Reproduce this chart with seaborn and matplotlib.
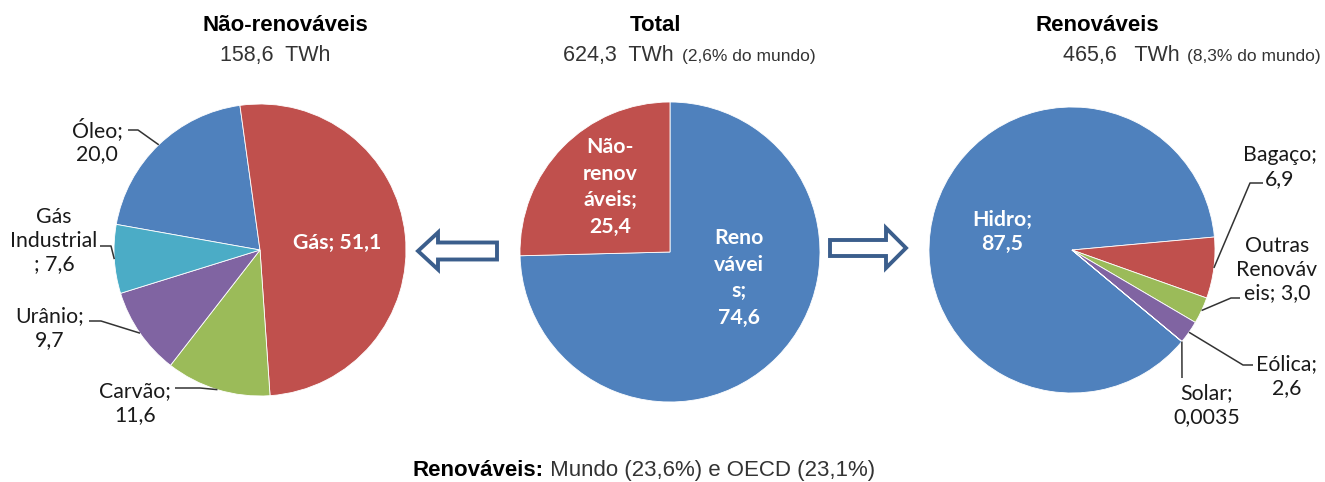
import numpy as np
import matplotlib
matplotlib.use("Agg")
import matplotlib.pyplot as plt
from matplotlib.patches import FancyArrow
import seaborn as sns

# ---------------- data ----------------
nren_names = ["Óleo", "Gás", "Carvão", "Urânio", "Gás Industrial"]
nren_values = [20.0, 51.1, 11.6, 9.7, 7.6]
total_names = ["Renováveis", "Não-renováveis"]
total_values = [74.6, 25.4]
ren_names = ["Hidro", "Bagaço", "Outras Renováveis", "Eólica", "Solar"]
ren_values = [87.5, 6.9, 3.0, 2.6, 0.0035]

nren_twh = "158,6"
total_twh = "624,3"
ren_twh = "465,6"
total_world = "2,6%"
ren_world = "8,3%"
world_ren_share = "23,6%"
oecd_ren_share = "23,1%"

# label texts as displayed (Excel-style wrapping)
nren_disp = ["Óleo;\n", "Gás; ", "Carvão;\n", "Urânio;\n", "Gás\nIndustrial\n; "]
total_disp = ["Reno\nvávei\ns;\n", "Não-\nrenov\náveis;\n"]
ren_disp = ["Hidro;\n", "Bagaço;\n", "Outras\nRenováv\neis; ", "Eólica;\n", "Solar;\n"]


def fmt(v):
    s = f"{v:.4f}" if v < 0.1 else f"{v:.1f}"
    return s.replace(".", ",")


# ---------------- style ----------------
sns.set_theme(style="white")
plt.rcParams["font.family"] = ["Lato", "DejaVu Sans"]
pal = sns.color_palette(["#4F81BD", "#C0504D", "#9BBB59", "#8064A2", "#4BACC6"])
blue, red, green, purple, aqua = pal

W, H = 1325, 482
fig = plt.figure(figsize=(W / 100, H / 100), dpi=100)
ax = fig.add_axes([0, 0, 1, 1])


def Y(y):
    return H - y


wp = dict(edgecolor="white", linewidth=0.6)
LBL = dict(fontsize=15.3, color="#1a1a1a", ha="center", va="center",
           linespacing=1.22, family=["Lato", "DejaVu Sans"])
WLBL = dict(fontsize=15.3, color="white", ha="center", va="center",
            fontweight="bold", linespacing=1.25, family=["Lato", "DejaVu Sans"])

# left pie: Não-renováveis
w_left, _ = ax.pie(nren_values, colors=[blue, red, green, purple, aqua],
                   startangle=169.9, counterclock=False,
                   center=(260, Y(250)), radius=146, wedgeprops=wp)
# middle pie: Total
w_mid, _ = ax.pie(total_values, colors=[blue, red], startangle=90, counterclock=False,
                  center=(670, Y(252)), radius=150, wedgeprops=wp)
# right pie: Renováveis
w_right, _ = ax.pie(ren_values, colors=[blue, red, green, purple, aqua],
                    startangle=320.2, counterclock=False,
                    center=(1072, Y(250)), radius=143, wedgeprops=wp)

ax.set_xlim(0, W)
ax.set_ylim(0, H)
ax.set_aspect("equal")
ax.axis("off")


def edge(w):
    th = np.deg2rad((w.theta1 + w.theta2) / 2)
    cx, cy = w.center
    return cx + w.r * np.cos(th), cy + w.r * np.sin(th)


def leader(w, start, elbow):
    ex, ey = edge(w)
    ax.plot([start[0], elbow[0], ex], [Y(start[1]), Y(elbow[1]), ey],
            color="#333333", lw=1.1, solid_capstyle="butt", zorder=3)


# left labels
left_pos = {0: (97, 141), 2: (135, 403), 3: (50, 328), 4: (54, 241)}
left_lead = {0: ((128, 130), (138, 130)), 2: ((175, 388), (200, 388)),
             3: ((89, 321), (101, 321)), 4: ((100, 246), (111, 246))}
for i, (d, v) in enumerate(zip(nren_disp, nren_values)):
    if i == 1:
        ax.text(337, Y(243), d + fmt(v), **WLBL)
        continue
    x, y = left_pos[i]
    ax.text(x, Y(y), d + fmt(v), **LBL)
    leader(w_left[i], *left_lead[i])

# middle labels
mid_pos = {0: (739, 278), 1: (610, 187)}
for i, (d, v) in enumerate(zip(total_disp, total_values)):
    x, y = mid_pos[i]
    ax.text(x, Y(y), d + fmt(v), **dict(WLBL, linespacing=1.4))

# right labels
right_pos = {1: (1280, 167), 2: (1277, 270), 3: (1287, 376), 4: (1207, 405)}
right_lead = {1: ((1263, 183), (1250, 183)), 2: ((1240, 298), (1231, 298)),
              3: ((1253, 365), (1243, 365)), 4: ((1182, 378), (1182, 378))}
for i, (d, v) in enumerate(zip(ren_disp, ren_values)):
    if i == 0:
        ax.text(1002, Y(232), d + fmt(v), **WLBL)
        continue
    x, y = right_pos[i]
    ax.text(x, Y(y), d + fmt(v), **LBL)
    leader(w_right[i], *right_lead[i])

# arrows
acol = "#3B5E8C"
ax.add_patch(FancyArrow(497, Y(251), -79, 0, width=17, head_width=37, head_length=20,
                        length_includes_head=True, facecolor="white", edgecolor=acol,
                        linewidth=2.8, zorder=4))
ax.add_patch(FancyArrow(830, Y(248), 76, 0, width=16, head_width=40, head_length=20,
                        length_includes_head=True, facecolor="white", edgecolor=acol,
                        linewidth=2.8, zorder=4))

# titles
TF = ["Liberation Sans", "DejaVu Sans"]
tcol = "#333333"
ax.text(285, Y(31), "Não-renováveis", fontsize=16, fontweight="bold", ha="center",
        va="baseline", family=TF, color="black")
ax.text(655, Y(31), "Total", fontsize=16, fontweight="bold", ha="center",
        va="baseline", family=TF, color="black")
ax.text(1097, Y(31), "Renováveis", fontsize=16, fontweight="bold", ha="center",
        va="baseline", family=TF, color="black")

ax.text(220, Y(61), f"{nren_twh}  TWh", fontsize=15.5, ha="left", va="baseline",
        family=TF, color=tcol)
ax.text(563, Y(61), f"{total_twh}  TWh", fontsize=15.5, ha="left", va="baseline",
        family=TF, color=tcol)
ax.text(682, Y(61), f"({total_world} do mundo)", fontsize=12.5, ha="left",
        va="baseline", family=TF, color=tcol)
ax.text(1063, Y(61), f"{ren_twh}   TWh", fontsize=15.5, ha="left", va="baseline",
        family=TF, color=tcol)
ax.text(1187, Y(61), f"({ren_world} do mundo)", fontsize=12.5, ha="left",
        va="baseline", family=TF, color=tcol)

# bottom note
fig.canvas.draw()
r = fig.canvas.get_renderer()
t1 = ax.text(413, Y(476), "Renováveis:", fontsize=16, fontweight="bold", ha="left",
             va="baseline", family=TF, color="black")
bb = t1.get_window_extent(renderer=r)
x_end = ax.transData.inverted().transform((bb.x1, bb.y0))[0]
ax.text(x_end, Y(476), f" Mundo ({world_ren_share}) e OECD ({oecd_ren_share})",
        fontsize=16, ha="left", va="baseline", family=TF, color=tcol)

fig.savefig("out.png", dpi=100)
